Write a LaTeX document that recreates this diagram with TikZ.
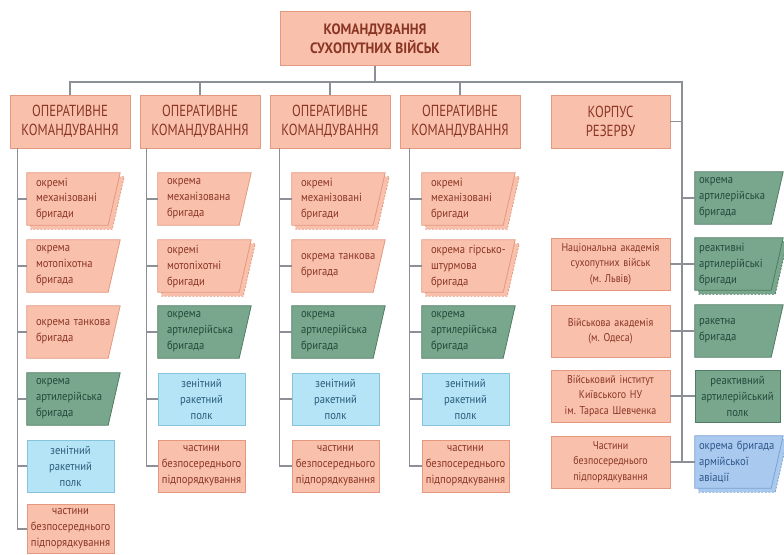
\documentclass[tikz,border=0pt]{standalone}
\usepackage{fontspec}
\setmainfont{PT Sans}
\newfontfamily\cond[FakeStretch=0.88]{PT Sans}
\newfontfamily\conds[FakeStretch=0.9]{PT Sans}
\newfontfamily\condh[FakeStretch=0.8]{PT Sans}
\newfontfamily\condt[FakeStretch=0.9]{PT Sans}
\usetikzlibrary{backgrounds,calc}
\frenchspacing
\definecolor{salfill}{HTML}{F9C1AC}
\definecolor{saldraw}{HTML}{E3987F}
\definecolor{saltext}{HTML}{8A3524}
\definecolor{grnfill}{HTML}{79A78D}
\definecolor{grndraw}{HTML}{4F7C63}
\definecolor{grntext}{HTML}{23493A}
\definecolor{cynfill}{HTML}{B4E4F6}
\definecolor{cyndraw}{HTML}{86C3DC}
\definecolor{cyntext}{HTML}{2A5C7C}
\definecolor{blufill}{HTML}{AAC9EE}
\definecolor{bludraw}{HTML}{7AA2D2}
\definecolor{blutext}{HTML}{2C568A}
\definecolor{lgray}{HTML}{8C9096}
\tikzset{
  conn/.style={draw=lgray, line width=1.1},
  txt/.style={inner sep=0pt, minimum height=52, font=\conds\fontsize{11.8}{16}\selectfont},
  tnode/.style={txt, text width=75, minimum width=93, align=left},
  rtnode/.style={txt, text width=80, minimum width=88, align=left},
  rnode/.style={txt, text width=86, minimum width=87, align=center},
  knode/.style={txt, text width=115, minimum width=119, align=center, fill=salfill, draw=saldraw, line width=0.8, text=saltext, font=\cond\fontsize{11.3}{15.5}\selectfont},
  hnode/.style={inner sep=0pt, minimum width=120, minimum height=53, align=center, fill=salfill, draw=saldraw, line width=0.8, text=saltext, font=\condh\fontsize{16}{19.5}\selectfont},
  sal/.style={fill=salfill, draw=saldraw, line width=0.8},
  grn/.style={fill=grnfill, draw=grndraw, line width=0.8},
  cyn/.style={fill=cynfill, draw=cyndraw, line width=0.8},
  blu/.style={fill=blufill, draw=bludraw, line width=0.8},
  tsal/.style={text=saltext},
  tgrn/.style={text=grntext},
  tcyn/.style={text=cyntext},
  tblu/.style={text=blutext},
}
\newcommand\trapshape[2]{%
  \begin{pgfonlayer}{background}
  \path[#2] (#1.north west) -- (#1.north east) -- ([xshift=-12pt]#1.south east) -- (#1.south west) -- cycle;
  \end{pgfonlayer}}
\newcommand\trapshadow[2]{%
  \begin{pgfonlayer}{background}
  \path[#2, dash pattern=on 2pt off 1.5pt] ([shift={(4,4)}]#1.north west) -- ([shift={(4,4)}]#1.north east) -- ([shift={(-8,4)}]#1.south east) -- ([shift={(4,4)}]#1.south west) -- cycle;
  \path[#2] (#1.north west) -- (#1.north east) -- ([xshift=-12pt]#1.south east) -- (#1.south west) -- cycle;
  \end{pgfonlayer}}
\begin{document}
\begin{tikzpicture}[x=1pt,y=-1pt]
\path[use as bounding box] (0,0) rectangle (784,554);

% top
\node[hnode, minimum width=190, minimum height=54, font=\condt\bfseries\fontsize{15}{18.5}\selectfont] (top) at (375,38.5) {КОМАНДУВАННЯ\\СУХОПУТНИХ ВІЙСЬК};

% headers
\node[hnode] (h1) at (70,121.5) {ОПЕРАТИВНЕ\\КОМАНДУВАННЯ};
\node[hnode] (h2) at (200,121.5) {ОПЕРАТИВНЕ\\КОМАНДУВАННЯ};
\node[hnode] (h3) at (330,121.5) {ОПЕРАТИВНЕ\\КОМАНДУВАННЯ};
\node[hnode] (h4) at (460,121.5) {ОПЕРАТИВНЕ\\КОМАНДУВАННЯ};
\node[hnode, minimum width=119] (h5) at (610.5,121.5) {КОРПУС\\РЕЗЕРВУ};

% column 1
\node[tnode,tsal] (a1) at (73.5,199) {окремі\\механізовані\\бригади};
\trapshadow{a1}{sal}
\node[tnode,tsal] (a2) at (73.5,266) {окрема\\мотопіхотна\\бригада};
\trapshape{a2}{sal}
\node[tnode,tsal] (a3) at (73.5,332) {окрема танкова\\бригада};
\trapshape{a3}{sal}
\node[tnode,tgrn] (a4) at (73.5,399) {окрема\\артилерійська\\бригада};
\trapshape{a4}{grn}
\node[rnode,cyn,tcyn] (a5) at (70.5,466) {зенітний\\ракетний\\полк};
\node[rnode,sal,tsal,minimum height=49] (a6) at (70.5,529) {частини\\безпосереднього\\підпорядкування};

% column 2
\node[tnode,tsal] (b1) at (204.5,199) {окрема\\механізована\\бригада};
\trapshape{b1}{sal}
\node[tnode,tsal] (b2) at (204.5,266) {окремі\\мотопіхотні\\бригади};
\trapshadow{b2}{sal}
\node[tnode,tgrn] (b3) at (204.5,332) {окрема\\артилерійська\\бригада};
\trapshape{b3}{grn}
\node[rnode,cyn,tcyn] (b4) at (201.5,399) {зенітний\\ракетний\\полк};
\node[rnode,sal,tsal] (b5) at (201.5,466) {частини\\безпосереднього\\підпорядкування};

% column 3
\node[tnode,tsal] (c1) at (338.5,199) {окремі\\механізовані\\бригади};
\trapshadow{c1}{sal}
\node[tnode,tsal] (c2) at (338.5,266) {окрема танкова\\бригада};
\trapshape{c2}{sal}
\node[tnode,tgrn] (c3) at (338.5,332) {окрема\\артилерійська\\бригада};
\trapshape{c3}{grn}
\node[rnode,cyn,tcyn] (c4) at (335.5,399) {зенітний\\ракетний\\полк};
\node[rnode,sal,tsal] (c5) at (335.5,466) {частини\\безпосереднього\\підпорядкування};

% column 4
\node[tnode,tsal] (d1) at (468.5,199) {окремі\\механізовані\\бригади};
\trapshadow{d1}{sal}
\node[tnode,tsal] (d2) at (468.5,266) {окрема гірсько-\\штурмова\\бригада};
\trapshadow{d2}{sal}
\node[tnode,tgrn] (d3) at (468.5,332) {окрема\\артилерійська\\бригада};
\trapshape{d3}{grn}
\node[rnode,cyn,tcyn] (d4) at (465.5,399) {зенітний\\ракетний\\полк};
\node[rnode,sal,tsal] (d5) at (465.5,466) {частини\\безпосереднього\\підпорядкування};

% reserve: academies
\node[knode] (k1) at (610.5,264) {Національна академія\\сухопутних військ\\(м. Львів)};
\node[knode] (k2) at (610.5,331) {Військова академія\\(м. Одеса)};
\node[knode] (k3) at (610.5,396) {Військовий інститут\\Київського НУ\\ім. Тараса Шевченка};
\node[knode] (k4) at (610.5,462) {Частини\\безпосереднього\\підпорядкування};

% reserve: right column
\node[rtnode,tgrn] (r1) at (739,198) {окрема\\артилерійська\\бригада};
\trapshape{r1}{grn}
\node[rtnode,tgrn] (r2) at (739,264) {реактивні\\артилерійські\\бригади};
\trapshadow{r2}{grn}
\node[rtnode,tgrn] (r3) at (739,331) {ракетна\\бригада};
\trapshape{r3}{grn}
\node[rnode,grn,tgrn,text width=83,minimum width=85] (r4) at (737.5,396) {реактивний\\артилерійський\\полк};
\node[rtnode,tblu] (r5) at (739,462) {окрема бригада\\армійської\\авіації};
\trapshadow{r5}{blu}

% connectors
\coordinate (rv) at (682,82);
\draw[conn] (top.south) -- (top.south |- rv);
\draw[conn] (h1.north) |- (rv) -- (rv |- r5.west);
\foreach \n in {h2,h3,h4} \draw[conn] (\n.north) -- (\n.north |- rv);
\draw[conn] (h5.east) -- (h5.east -| rv);
\foreach \n in {k1,k2,k3,k4} \draw[conn] (\n.east) -- (\n.east -| rv);
\foreach \n in {r1,r2,r3,r4,r5} \draw[conn] (\n.west) -- (\n.west -| rv);

\coordinate (v1) at ([xshift=8pt]h1.south west);
\draw[conn] (v1) |- (a6.west);
\foreach \n in {a1,a2,a3,a4,a5} \draw[conn] (\n.west) -- (\n.west -| v1);
\coordinate (v2) at ([xshift=7pt]h2.south west);
\draw[conn] (v2) |- (b5.west);
\foreach \n in {b1,b2,b3,b4} \draw[conn] (\n.west) -- (\n.west -| v2);
\coordinate (v3) at ([xshift=10pt]h3.south west);
\draw[conn] (v3) |- (c5.west);
\foreach \n in {c1,c2,c3,c4} \draw[conn] (\n.west) -- (\n.west -| v3);
\coordinate (v4) at ([xshift=10pt]h4.south west);
\draw[conn] (v4) |- (d5.west);
\foreach \n in {d1,d2,d3,d4} \draw[conn] (\n.west) -- (\n.west -| v4);
\end{tikzpicture}
\end{document}
